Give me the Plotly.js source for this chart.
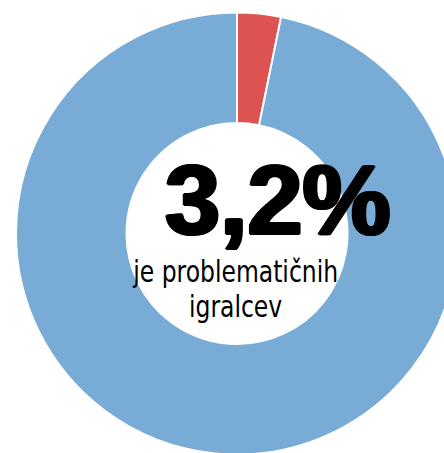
<!DOCTYPE html>
<html>
<head>
<meta charset="utf-8">
<script src="https://cdn.plot.ly/plotly-3.0.1.min.js"></script>
<style>
html,body{margin:0;padding:0;overflow:hidden;background:#fff;width:444px;height:453px;}
#chart{width:480px;height:460px;}
.annotation-text{font-stretch:condensed !important;}
.annotation[data-index="1"] .annotation-text,
.annotation[data-index="2"] .annotation-text{transform:scaleX(0.87);transform-box:fill-box;transform-origin:center;}
</style>
</head>
<body>
<div id="chart"></div>
<script>
const categories = ["problematični igralci", "ostali igralci"];
const values = [3.2, 96.8];
const colors = ["#dd5351", "#78abd6"];
const bigLabel = "3,2%";
const subLabel1 = "je problematičnih";
const subLabel2 = "igralcev";

const W = 480, H = 460;
const cx = 237, cy = 233.5, R = 221;

const trace = {
  type: "pie",
  labels: categories,
  values: values,
  hole: 0.5,
  sort: false,
  direction: "clockwise",
  rotation: 0,
  marker: {colors: colors, line: {color: "#ffffff", width: 2}},
  textinfo: "none",
  hoverinfo: "none",
  showlegend: false,
  domain: {x: [(cx - R) / W, (cx + R) / W], y: [1 - (cy + R) / H, 1 - (cy - R) / H]}
};

const layout = {
  width: W, height: H,
  margin: {l: 0, r: 0, t: 0, b: 0},
  paper_bgcolor: "#ffffff",
  showlegend: false,
  annotations: [
    {text: bigLabel, xref: "paper", yref: "paper", x: 278 / W, y: 1 - 200 / H,
     xanchor: "center", yanchor: "middle", showarrow: false,
     font: {family: "Liberation Sans, Arial, sans-serif", size: 99, color: "#000", weight: 700,
            shadow: "2px 0 0 #000, -2px 0 0 #000, 1px 1px 0 #000, -1px -1px 0 #000, 1px -1px 0 #000, -1px 1px 0 #000"}},
    {text: subLabel1, xref: "paper", yref: "paper", x: 235 / W, y: 1 - 271 / H,
     xanchor: "center", yanchor: "middle", showarrow: false,
     font: {family: "DejaVu Sans, sans-serif", size: 30, color: "#000"}},
    {text: subLabel2, xref: "paper", yref: "paper", x: 235 / W, y: 1 - 306 / H,
     xanchor: "center", yanchor: "middle", showarrow: false,
     font: {family: "DejaVu Sans, sans-serif", size: 30, color: "#000"}}
  ]
};

Plotly.newPlot("chart", [trace], layout, {displayModeBar: false, staticPlot: true});
</script>
</body>
</html>
